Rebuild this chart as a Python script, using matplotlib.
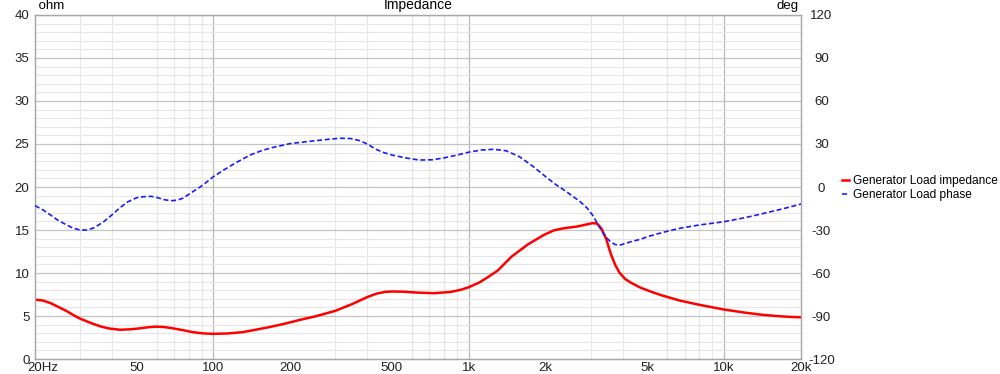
import numpy as np
import matplotlib
matplotlib.use("Agg")
from matplotlib import pyplot as plt
from matplotlib import ticker
import matplotlib.transforms as mtransforms

plt.rcParams['font.family'] = ['Liberation Sans', 'DejaVu Sans']
plt.rcParams['axes.unicode_minus'] = False

# impedance magnitude (Hz, ohm)
imp_freq = [20, 21.5, 23, 24.5, 26.5, 28.7, 30, 33, 36, 39, 43, 47, 51, 55, 59, 64,
            69, 76, 83, 91, 100, 115, 130, 143, 165, 190, 218, 250, 300, 350, 400,
            435, 470, 500, 560, 630, 730, 850, 930, 1000, 1100, 1200, 1300, 1470,
            1700, 1960, 2150, 2350, 2650, 2850, 3050, 3180, 3300, 3450, 3600, 3750,
            3900, 4100, 4300, 4700, 5200, 5700, 6700, 8000, 10000, 12000, 14000,
            16000, 18000, 20000]
imp_ohm = [6.9, 6.8, 6.5, 6.1, 5.6, 5.0, 4.7, 4.2, 3.8, 3.55, 3.4, 3.45, 3.55, 3.68,
           3.76, 3.72, 3.58, 3.35, 3.12, 2.98, 2.92, 2.98, 3.12, 3.35, 3.7, 4.1, 4.55,
           4.95, 5.6, 6.4, 7.2, 7.6, 7.8, 7.85, 7.82, 7.72, 7.65, 7.8, 8.05, 8.35,
           8.9, 9.6, 10.3, 11.9, 13.3, 14.4, 14.95, 15.2, 15.4, 15.6, 15.8, 15.75,
           15.2, 14.0, 12.2, 10.9, 10.0, 9.3, 8.9, 8.3, 7.8, 7.4, 6.8, 6.3, 5.75,
           5.4, 5.15, 5.0, 4.9, 4.85]

# phase (Hz, deg)
ph_freq = [20, 21.5, 23, 24.5, 26, 28, 30, 32, 34, 37, 40, 43, 46, 50, 53, 57, 60,
           64, 68, 72, 76, 81, 89, 100, 110, 120, 130, 140, 155, 170, 200, 250, 290,
           316, 345, 375, 405, 430, 465, 500, 570, 640, 720, 800, 900, 1000, 1120,
           1250, 1400, 1580, 1780, 2000, 2200, 2400, 2730, 2900, 3050, 3180, 3300,
           3450, 3600, 3750, 3900, 4100, 4300, 4700, 5000, 5800, 6700, 8000, 10000,
           12000, 14000, 17000, 20000]
ph_deg = [-13, -16, -19.5, -23, -25.5, -28.5, -30, -30, -28.5, -24.5, -19.5, -14.5,
          -10.5, -7.5, -6.8, -6.5, -7.3, -8.8, -9.6, -9.2, -7.8, -4.5, 0.2, 7.2,
          12, 16, 19.5, 22.5, 25.5, 27.5, 30.3, 32.3, 33.5, 34, 33.8, 32.3, 29.5, 26.5,
          24, 22.3, 20.2, 18.8, 19.0, 20.3, 22.3, 24.3, 25.8, 26.3, 25.3, 21.1, 14.5,
          7.2, 1.5, -3, -10.2, -14.5, -19.5, -25, -30, -35, -38.5, -40.2, -40.5, -39.5,
          -38.2, -36.5, -34.7, -31.5, -28.8, -26.5, -24.2, -21.5, -18.8, -15.2, -11.9]

xticks = [20, 50, 100, 200, 500, 1000, 2000, 5000, 10000, 20000]
xlabels = ['20Hz', '50', '100', '200', '500', '1k', '2k', '5k', '10k', '20k']

fig = plt.figure(figsize=(10, 3.74), dpi=100)
ax = fig.add_axes([0.035, 0.0401, 0.766, 0.9198])
ax2 = ax.twinx()

ax.set_xscale('log')
ax.set_xlim(20, 20000)
ax.set_ylim(0, 40)
ax2.set_ylim(-120, 120)

# grid
ax.xaxis.set_minor_locator(ticker.LogLocator(base=10, subs=np.arange(2, 10)))
ax.xaxis.set_minor_formatter(ticker.NullFormatter())
ax.yaxis.set_major_locator(ticker.MultipleLocator(5))
ax.yaxis.set_minor_locator(ticker.MultipleLocator(1))
ax.grid(which='minor', axis='both', color='#e6e6e6', lw=0.8)
ax.grid(which='major', axis='y', color='#c4c4c4', lw=0.9)
for d in [100, 1000, 10000]:
    ax.axvline(d, color='#b8b8b8', lw=0.9, zorder=0.5)
ax.set_axisbelow(True)

ax.set_xticks(xticks)
ax.set_xticklabels(xlabels)
ax2.set_yticks(np.arange(-120, 121, 30))

ax.tick_params(which='both', length=0, labelsize=9.5, colors='#222222')
ax.tick_params(axis='x', pad=2)
ax.tick_params(axis='y', pad=4)
ax2.tick_params(length=0, labelsize=9.5, colors='#222222', pad=9)
for lab in ax2.get_yticklabels():
    lab.set_horizontalalignment('center')
    lab.set_transform(lab.get_transform() + mtransforms.ScaledTranslation(0.08, 0, fig.dpi_scale_trans))
first = ax.get_xticklabels()[0]
first.set_horizontalalignment('left')
first.set_transform(first.get_transform() + mtransforms.ScaledTranslation(-0.08, 0, fig.dpi_scale_trans))
zero = ax.get_yticklabels()[0]
zero.set_transform(zero.get_transform() + mtransforms.ScaledTranslation(0, 0.03, fig.dpi_scale_trans))

for a in (ax, ax2):
    for s in a.spines.values():
        s.set_color('#a8a8a8')
        s.set_linewidth(0.9)

l1, = ax.plot(imp_freq, imp_ohm, color='#ff0000', lw=1.8, zorder=3,
              label='Generator Load impedance')
l2, = ax2.plot(ph_freq, ph_deg, color='#1a1aff', lw=1.2, dashes=(3, 1.6), zorder=3,
               label='Generator Load phase')

ax.text(0, 1.008, ' ohm', transform=ax.transAxes, fontsize=9.5, ha='left', va='bottom')
ax.text(0.997, 1.008, 'deg', transform=ax.transAxes, fontsize=9.5, ha='right', va='bottom')
ax.text(0.5, 1.008, 'Impedance', transform=ax.transAxes, fontsize=10, ha='center', va='bottom')

fig.legend(handles=[l1, l2], loc='upper left', bbox_to_anchor=(0.836, 0.548),
           frameon=False, fontsize=8.6, handlelength=0.6, handletextpad=0.3,
           labelspacing=0.15, borderpad=0)

fig.savefig('out.png', dpi=100)
